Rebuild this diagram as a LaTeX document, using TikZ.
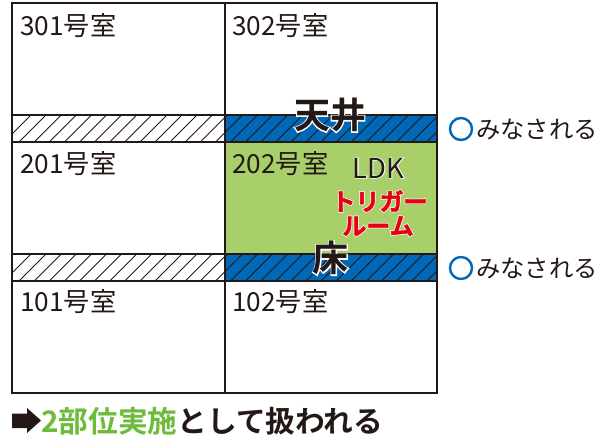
\documentclass[tikz,border=0pt]{standalone}
\usepackage{fontspec}
\newfontfamily\jp{Noto Sans CJK JP}[BoldFont={Noto Sans CJK JP Bold}]
\newfontfamily\jpheavy{Noto Sans CJK JP Bold}[FakeBold=2]
\setmainfont{Noto Sans CJK JP}
\definecolor{ink}{HTML}{231815}
\definecolor{wallblue}{HTML}{0068B7}
\definecolor{roomgreen}{HTML}{A8CF6A}
\definecolor{txtgreen}{HTML}{6DBB3A}
\definecolor{trigred}{HTML}{E60012}
\newcommand{\halotext}[2]{\rlap{\addfontfeatures{FakeBold=#1}\color{white}#2}#2}
\tikzset{
  x=1pt,y=-1pt,
  wall/.style={draw=ink,line width=2.5pt},
  hatch/.style={draw=ink,line width=0.9pt},
  room/.style={anchor=base west,inner sep=0pt,font=\jp\fontsize{26.2}{27}\selectfont,text=ink},
  mina/.style={anchor=base west,inner sep=0pt,font=\jp\fontsize{24.3}{25}\selectfont,text=ink},
  ring/.style={circle,draw=wallblue,line width=2.4pt,minimum size=22pt,inner sep=0pt},
  big/.style={inner sep=0pt,font=\jp\bfseries\fontsize{36}{36}\selectfont,text=ink},
  red/.style={inner sep=0pt,font=\jpheavy\fontsize{24}{24}\selectfont,text=trigred},
}
\begin{document}
\begin{tikzpicture}
\useasboundingbox (0,0) rectangle (603,439);
% fills
\fill[wallblue] (225,115) rectangle (437,142);
\fill[wallblue] (225,254) rectangle (437,281);
\fill[roomgreen] (225,142) rectangle (437,254);
% hatching
\foreach \yy in {115,254}{
  \begin{scope}
    \clip (12,\yy) rectangle (437,\yy+27);
    \foreach \k in {0,...,30}{
      \draw[hatch] (\k*15.1+4,\yy+27) -- (\k*15.1+31,\yy);
    }
  \end{scope}
}
% walls
\draw[wall] (12,3) rectangle (437,393);
\draw[wall] (225,3) -- (225,393);
\foreach \yy in {115,142,254,281}{\draw[wall] (12,\yy) -- (437,\yy);}
% rooms
\node[room] (r301) at (20,35) {301号室};
\node[room] (r302) at (232,35) {302号室};
\node[room] (r201) at (20,173) {201号室};
\node[room] (r202) at (232,173) {202号室};
\node[room] (r101) at (20,311) {101号室};
\node[room] (r102) at (232,311) {102号室};
% labels
\node[big] (ceil) at (330,115) {\halotext{6}{天井}};
\node[big] (floor) at (330.5,258) {\halotext{6}{床}};
\node[inner sep=0pt,font=\jp\fontsize{27.5}{27}\selectfont,text=ink] (ldk) at (378.5,168) {\halotext{4}{LDK}};
\node[red] (trig1) at (379.5,201) {\halotext{8}{トリガー}};
\node[red] (trig2) at (378,226) {\halotext{8}{ルーム}};
% minasareru
\node[ring] (c1) at (461,129) {};
\node[mina] (m1) at (476,138) {みなされる};
\node[ring] (c2) at (461,268) {};
\node[mina] (m2) at (476,277) {みなされる};
% bottom line
\fill[ink] (12,413.5) -- (27,413.5) -- (27,408) -- (41,420.5) -- (27,433) -- (27,428) -- (12,428) -- cycle;
\node[anchor=base west,inner sep=0pt,font=\jp\bfseries\fontsize{29.7}{30}\selectfont,text=ink] (res) at (41,432) {\textcolor{txtgreen}{2部位実施}として扱われる};
\end{tikzpicture}
\end{document}
